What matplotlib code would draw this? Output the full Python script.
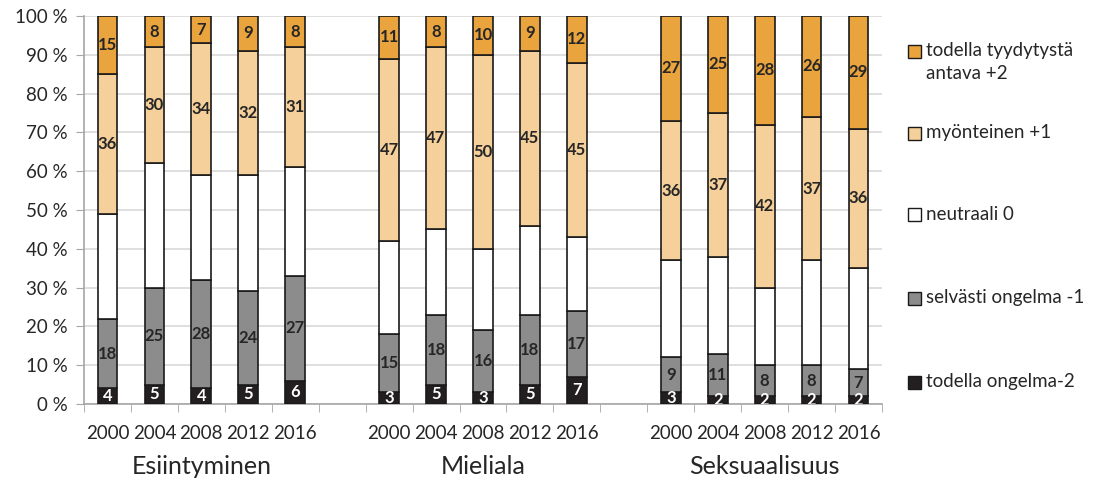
import matplotlib
matplotlib.use("Agg")
import matplotlib.pyplot as plt
from matplotlib.patches import Rectangle
import numpy as np

plt.rcParams['font.family'] = ['Lato', 'DejaVu Sans']

groups = ["Esiintyminen", "Mieliala", "Seksuaalisuus"]
years = ["2000", "2004", "2008", "2012", "2016"]
series_names = ["todella ongelma-2", "selvästi ongelma -1", "neutraali 0",
                "myönteinen +1", "todella tyydytystä\nantava +2"]

# values per group, per year (order: -2, -1, 0, +1, +2)
v_m2 = [4, 5, 4, 5, 6,   3, 5, 3, 5, 7,   3, 2, 2, 2, 2]
v_m1 = [18, 25, 28, 24, 27,   15, 18, 16, 18, 17,   9, 11, 8, 8, 7]
v_0  = [27, 32, 27, 30, 28,   24, 22, 21, 23, 19,   25, 25, 20, 27, 26]
v_p1 = [36, 30, 34, 32, 31,   47, 47, 50, 45, 45,   36, 37, 42, 37, 36]
v_p2 = [15, 8, 7, 9, 8,   11, 8, 10, 9, 12,   27, 25, 28, 26, 29]

colors = ["#231F20", "#8C8C8C", "#FFFFFF", "#F5D09A", "#EAA43E"]
label_colors = ["white", "#262626", None, "#262626", "#262626"]

fig = plt.figure(figsize=(11.12, 4.87), dpi=100)
ax = fig.add_axes([84/1112, 1-404/487, (882-84)/1112, (404-16)/487])

# positions: 5 slots per group, one empty slot between groups
pos = []
for g in range(3):
    for i in range(5):
        pos.append(g*6 + i)
pos = np.array(pos, dtype=float)

series = [v_m2, v_m1, v_0, v_p1, v_p2]
bottom = np.zeros(len(pos))
width = 0.42
for s, (vals, col, lc) in enumerate(zip(series, colors, label_colors)):
    vals = np.array(vals, dtype=float)
    ax.bar(pos, vals, width, bottom=bottom, color=col, edgecolor="#1a1a1a",
           linewidth=1.2, zorder=3)
    if lc is not None:
        for x, b, v in zip(pos, bottom, vals):
            ax.text(x, b + v/2, f"{int(v)}", ha="center", va="center",
                    fontsize=12, fontweight="bold", color=lc, zorder=4,
                    clip_on=True)
    bottom += vals

ax.set_xlim(-0.5, 16.5)
ax.set_ylim(0, 100)
ax.set_yticks(np.arange(0, 101, 10))
ax.set_yticklabels([f"{t} %" for t in range(0, 101, 10)], fontsize=13.5,
                   color="#262626")
ax.yaxis.grid(True, color="#d9d9d9", linewidth=1.2, zorder=0)
ax.set_axisbelow(True)
ax.tick_params(axis="y", length=6, color="#a6a6a6", pad=6)

ax.set_xticks(pos)
ax.set_xticklabels(years * 3, fontsize=13.5, color="#262626")
ax.set_xticks(np.arange(-0.5, 17, 1.0), minor=True)
ax.tick_params(axis="x", which="major", length=0, pad=15)
ax.tick_params(axis="x", which="minor", length=6, color="#a6a6a6")

for sp in ["top", "right"]:
    ax.spines[sp].set_visible(False)
ax.spines["left"].set_color("#a6a6a6")
ax.spines["bottom"].set_color("#a6a6a6")
ax.spines["left"].set_linewidth(1.2)
ax.spines["bottom"].set_linewidth(1.2)

for g, name in enumerate(groups):
    ax.text(g*6 + 2, (404 - 466)/388, name, ha="center", va="center",
            fontsize=18, color="#262626", transform=ax.get_xaxis_transform())

# legend (top to bottom: +2, +1, 0, -1, -2)
leg_y = [51, 133, 215, 298, 382]
for k, yy in enumerate(leg_y):
    s = 4 - k
    fy = 1 - yy/487
    fig.add_artist(Rectangle((908/1112, fy - 6.5/487), 13/1112, 13/487,
                             facecolor=colors[s], edgecolor="#1a1a1a",
                             linewidth=1.0, transform=fig.transFigure))
    fig.text(926/1112, fy + 9/487, series_names[s], ha="left", va="top",
             fontsize=13.5, color="#262626", linespacing=1.4)

fig.savefig("out.png", dpi=100)
